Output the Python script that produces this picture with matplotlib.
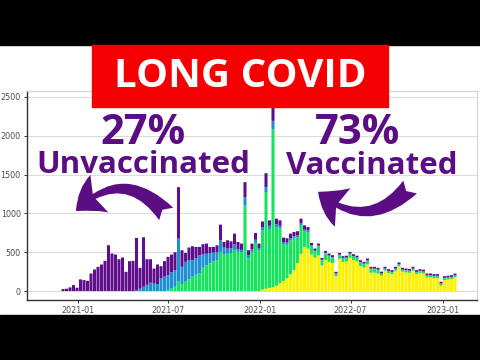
import pandas as pd
import matplotlib
matplotlib.use("Agg")
import matplotlib.pyplot as plt
import matplotlib.dates as mdates
from matplotlib.patches import Rectangle, FancyArrowPatch

# -----------------------------
#  DATA (weekly cases, stacked bottom -> top)
# -----------------------------
weeks = pd.date_range("2020-12-03", periods=113, freq="7D")

yellow = [0] * 57 + [
    20, 30, 40, 50, 70, 100, 130, 165, 215, 270, 360, 480, 568, 547,
    470, 430, 460, 330, 400, 375, 360, 190,
    416, 374, 380, 429, 399, 380, 322, 301, 344, 237, 237, 224,
    200, 262, 232, 219, 262, 318, 250, 240, 235, 262, 219, 232, 225,
    176, 176, 168, 168, 70, 142, 147, 155, 176]

green = [0] * 30 + [
    15, 34, 55, 130, 90, 120, 150, 184, 210, 226, 300, 333, 360, 380,
    400, 504, 470, 480, 490, 530, 504, 500, 1103, 420, 500, 620, 520,
    760, 1244, 760, 2035, 755, 710, 470, 430, 435, 410, 330, 370, 202, 213,
    108, 80, 115, 65, 85, 75, 70, 30] + [45] * 12 + [22] * 22

blue = [0] * 21 + [
    13, 30, 56, 80, 107, 95, 90, 162, 185,
    190, 206, 215, 545, 222, 256, 250, 213, 210, 235, 170, 147, 130, 115,
    100, 150, 90, 67, 60, 70, 36, 30, 106, 40, 40, 40, 35,
    40, 64, 40, 105, 35, 30, 30, 30, 30, 25, 25, 25, 20, 20,
    12, 10, 10, 8, 8, 8, 8, 6] + [8] * 12 + [6] * 22

purple = [
    26, 30, 47, 77, 43, 150, 141, 132, 226, 278, 312, 342, 389, 590,
    483, 470, 410, 432, 248, 385, 389,
    671, 269, 636, 330, 303, 195, 252, 158, 200,
    235, 230, 230, 662, 213, 115, 160, 180, 148, 107, 133, 131, 78, 73,
    89, 201, 72, 107, 90, 139, 92, 81, 193, 66, 71, 88, 56,
    75, 179, 70, 190, 72, 70, 58, 55, 59, 56, 55, 57, 56, 45,
    30, 27, 26, 24, 24, 25, 24, 22] + [22] * 34

tick_dates = ["2021-01-01", "2021-07-01", "2022-01-01", "2022-07-01", "2023-01-01"]
tick_labels = ["2021-01", "2021-07", "2022-01", "2022-07", "2023-01"]
y_ticks = [0, 500, 1000, 1500, 2000, 2500]

# -----------------------------
#  STYLE
# -----------------------------
C_YELLOW = "#fff000"
C_GREEN = "#17e35e"
C_BLUE = "#1f8fd4"
C_PURPLE = "#5f0f8c"
C_TEXT = "#5b0e84"
FONT = ["Open Sans", "DejaVu Sans"]

W, H = 480, 360
fig = plt.figure(figsize=(W / 100, H / 100), dpi=100)
fig.patch.set_facecolor("white")


def fx(px):
    return px / W


def fy(py):
    return 1 - py / H


ax = fig.add_axes([fx(27), fy(300), fx(477) - fx(27), fy(91) - fy(300)])

x = mdates.date2num(weeks)
bottom = [0] * len(x)
for vals, col in [(yellow, C_YELLOW), (green, C_GREEN), (blue, C_BLUE), (purple, C_PURPLE)]:
    bars = ax.bar(x, vals, width=6.1, bottom=bottom, color=col, linewidth=0, zorder=2)
    for b in bars:
        b.set_snap(False)
    bottom = [b + v for b, v in zip(bottom, vals)]

ax.set_xlim(mdates.date2num(pd.Timestamp("2020-09-22")), mdates.date2num(pd.Timestamp("2023-03-11")))
ax.set_ylim(-115, 2575)
ax.set_xticks(mdates.date2num(pd.to_datetime(tick_dates)))
ax.set_xticklabels(tick_labels)
ax.set_yticks(y_ticks)
ax.yaxis.grid(True, color="#dcdcdc", linewidth=0.8, zorder=0)
ax.set_axisbelow(True)

for s in ["left", "bottom"]:
    ax.spines[s].set_color("#333333")
    ax.spines[s].set_linewidth(1.0)
for s in ["top", "right"]:
    ax.spines[s].set_color("#d4d4d4")
    ax.spines[s].set_linewidth(0.8)
ax.tick_params(length=2.5, width=0.7, color="#333333", labelcolor="#4d4d4d",
               labelsize=5.8, pad=2)

# -----------------------------
#  THUMBNAIL OVERLAYS
# -----------------------------
fig.patches.append(Rectangle((0, fy(45)), 1, 45 / H, transform=fig.transFigure,
                             color="black", zorder=10))
fig.patches.append(Rectangle((0, 0), 1, 45 / H, transform=fig.transFigure,
                             color="black", zorder=10))
fig.patches.append(Rectangle((fx(92), fy(107)), fx(388) - fx(92), 62 / H,
                             transform=fig.transFigure, color="#f50000", zorder=10))

fig.text(fx(240), fy(87), "LONG COVID", color="white", fontsize=29, fontweight="bold",
         family=FONT, ha="center", va="baseline", zorder=11)
fig.text(fx(143), fy(144), "27%", color=C_TEXT, fontsize=30, fontweight="bold",
         family=FONT, ha="center", va="baseline", zorder=11)
fig.text(fx(143), fy(173), "Unvaccinated", color=C_TEXT, fontsize=22.5, fontweight="bold",
         family=FONT, ha="center", va="baseline", zorder=11)
fig.text(fx(358), fy(144), "73%", color=C_TEXT, fontsize=30, fontweight="bold",
         family=FONT, ha="center", va="baseline", zorder=11)
fig.text(fx(372), fy(174), "Vaccinated", color=C_TEXT, fontsize=22.5, fontweight="bold",
         family=FONT, ha="center", va="baseline", zorder=11)

arrow_style = "fancy,head_length=0.7,head_width=1.0,tail_width=0.45"
left_arrow = FancyArrowPatch((fx(168), fy(216)), (fx(74), fy(213)),
                             transform=fig.transFigure, connectionstyle="arc3,rad=0.55",
                             arrowstyle=arrow_style, mutation_scale=30,
                             color=C_TEXT, linewidth=0, zorder=11)
right_arrow = FancyArrowPatch((fx(412), fy(185)), (fx(316), fy(190)),
                              transform=fig.transFigure, connectionstyle="arc3,rad=-0.5",
                              arrowstyle=arrow_style, mutation_scale=30,
                              color=C_TEXT, linewidth=0, zorder=11)
fig.patches.append(left_arrow)
fig.patches.append(right_arrow)

fig.savefig("out.png", dpi=100)
